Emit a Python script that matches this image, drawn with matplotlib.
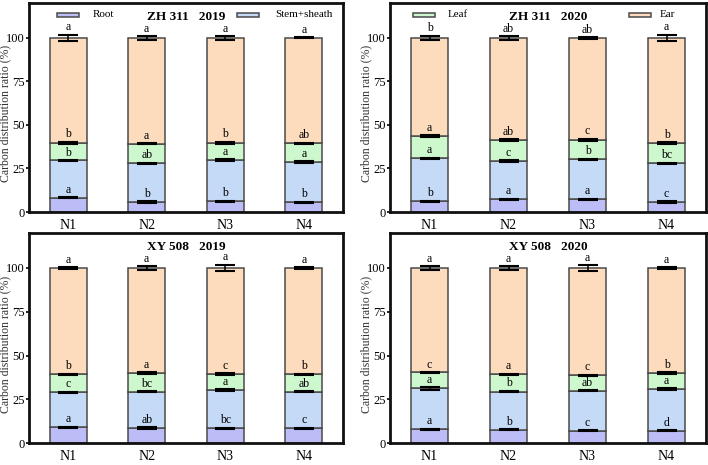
import matplotlib
matplotlib.use("Agg")
import matplotlib.pyplot as plt
from matplotlib.patches import Rectangle
import numpy as np

plt.rcParams['font.family'] = ['Liberation Serif', 'DejaVu Serif']

categories = ["N1", "N2", "N3", "N4"]
organs = ["Root", "Stem+sheath", "Leaf", "Ear"]
colors = ["#bcbcf7", "#c5daf6", "#cdf7cd", "#fddcbe"]

titles = ["ZH 311   2019", "ZH 311   2020", "XY 508   2019", "XY 508   2020"]

# cumulative tops of each segment (%), per panel: root, stem, leaf, ear(=100)
root = [[8.2, 5.7, 6.1, 5.7],
        [6.3, 7.3, 7.3, 5.7],
        [9.0, 8.6, 8.4, 8.4],
        [7.8, 7.5, 7.1, 6.9]]
stem_top = [[29.6, 27.9, 29.6, 28.5],
            [30.8, 29.1, 30.2, 27.9],
            [29.1, 29.3, 30.2, 29.4],
            [31.2, 29.4, 30.0, 30.8]]
leaf_top = [[39.8, 39.2, 39.8, 39.4],
            [43.6, 41.3, 41.5, 39.6],
            [39.2, 40.0, 39.4, 39.4],
            [40.3, 39.4, 38.8, 40.0]]
ear_err = [[1.8, 1.1, 1.1, 0.3],
           [1.2, 1.0, 0.4, 1.8],
           [0.5, 1.2, 1.8, 0.3],
           [1.0, 1.2, 1.5, 0.3]]
root_err = [[0.4, 0.4, 0.3, 0.3],
            [0.3, 0.3, 0.3, 0.4],
            [0.4, 0.4, 0.3, 0.3],
            [0.3, 0.3, 0.3, 0.3]]
stem_err = [[0.3, 0.4, 0.6, 0.6],
            [0.3, 0.5, 0.4, 0.3],
            [0.3, 0.3, 0.6, 0.3],
            [0.8, 0.4, 0.3, 0.4]]
leaf_err = [[0.5, 0.4, 0.5, 0.3],
            [0.4, 0.6, 0.5, 0.5],
            [0.3, 0.3, 0.4, 0.3],
            [0.2, 0.3, 0.3, 0.3]]

letters_root = [["a", "b", "b", "b"], ["b", "a", "a", "c"],
                ["a", "ab", "bc", "c"], ["a", "b", "c", "d"]]
letters_stem = [["b", "ab", "a", "a"], ["a", "c", "b", "bc"],
                ["c", "bc", "a", "ab"], ["a", "b", "ab", "a"]]
letters_leaf = [["b", "a", "b", "ab"], ["a", "ab", "c", "b"],
                ["b", "a", "c", "b"], ["c", "a", "c", "b"]]
letters_ear = [["a", "a", "a", "a"], ["b", "ab", "ab", "a"],
               ["a", "a", "a", "a"], ["a", "a", "a", "a"]]

W, H = 708, 465
fig = plt.figure(figsize=(W / 100, H / 100), dpi=100)
rects = [(29, 3, 343, 212), (390, 3, 706, 212),
         (29, 233, 343, 443), (390, 233, 706, 443)]
edge = "#4a4a4a"

# legend layout: (organ index, handle start px within axes, text start px)
legend_items = [[(0, 28, 64), (1, 208, 246)],
                [(2, 23, 58), (3, 239, 270)]]

for p, (x0, y0, x1, y1) in enumerate(rects):
    aw, ah = x1 - x0, y1 - y0
    ax = fig.add_axes([x0 / W, 1 - y1 / H, aw / W, ah / H])
    x = np.arange(len(categories))
    r = np.array(root[p]); s = np.array(stem_top[p]); l = np.array(leaf_top[p])
    e = np.full(4, 100.0)
    bottoms = [np.zeros(4), r, s, l]
    tops = [r, s, l, e]
    errs = [root_err[p], stem_err[p], leaf_err[p], ear_err[p]]
    lets = [letters_root[p], letters_stem[p], letters_leaf[p], letters_ear[p]]
    bw = 0.47
    for k in range(4):
        ax.bar(x, tops[k] - bottoms[k], bottom=bottoms[k], width=bw,
               color=colors[k], edgecolor=edge, linewidth=1.1, zorder=2)
    for k in range(4):
        ax.errorbar(x, tops[k], yerr=errs[k], fmt="none", ecolor="black",
                    elinewidth=1.1, capsize=7, capthick=1.5, zorder=3)
        for i in range(4):
            ax.text(x[i], tops[k][i] + errs[k][i] + 0.8, lets[k][i],
                    ha="center", va="bottom", fontsize=8.5, zorder=4)
    ax.set_xlim(-0.5, 3.5)
    ax.set_ylim(0, 120)
    ax.set_yticks([0, 25, 50, 75, 100])
    ax.set_xticks(x)
    ax.set_xticklabels(categories, fontsize=10)
    ax.tick_params(axis="x", length=0, pad=5)
    ax.tick_params(axis="y", labelsize=9, length=2.5, width=1.2, pad=0.5)
    for sp in ax.spines.values():
        sp.set_linewidth(2)
        sp.set_color("#111111")
    ax.set_ylabel("Carbon distribution ratio (%)", fontsize=8.5, color="#333333")
    ax.yaxis.set_label_coords(-0.056, 0.47)
    ax.text(0.5, 0.935, titles[p], transform=ax.transAxes, ha="center",
            va="center", fontsize=9.5, fontweight="bold")
    if p < 2:
        for k, hx, tx in legend_items[p]:
            ax.add_patch(Rectangle((hx / aw, 0.933), 22 / aw, 4 / ah,
                                   transform=ax.transAxes, facecolor=colors[k],
                                   edgecolor=edge, linewidth=1.1,
                                   clip_on=False, zorder=5))
            ax.text(tx / aw, 0.945, organs[k], transform=ax.transAxes,
                    ha="left", va="center", fontsize=8)

fig.savefig("out.png", dpi=100)
